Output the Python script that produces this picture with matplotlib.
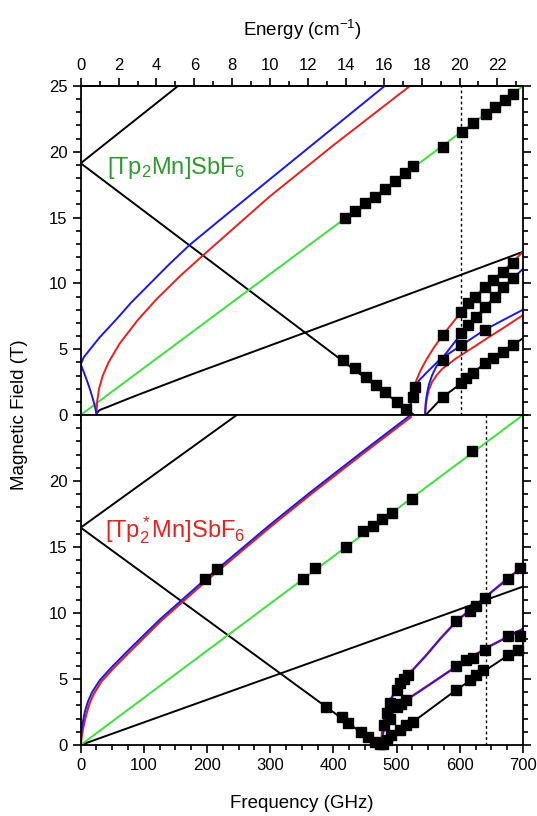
import matplotlib
matplotlib.use("Agg")
import matplotlib.pyplot as plt
from matplotlib.ticker import MultipleLocator, FixedLocator

plt.rcParams['font.family'] = ['Liberation Sans', 'DejaVu Sans']
plt.rcParams['mathtext.fontset'] = 'custom'
plt.rcParams['mathtext.rm'] = 'Liberation Sans'
plt.rcParams['mathtext.it'] = 'Liberation Sans'
plt.rcParams['mathtext.default'] = 'regular'

BLUE = '#1a1ae8'
RED = '#e82020'
GREEN = '#3ddf3d'
BLACK = '#000000'

# ---------------- top panel: [Tp2Mn]SbF6 ----------------
top_green_f = [0, 700]
top_green_B = [0, 25]
top_vrise_f = [0, 154]
top_vrise_B = [19.13, 25]
top_vfall_f = [0, 528]
top_vfall_B = [19.13, 0]
top_half_f = [25, 26, 28, 32, 41, 60, 89, 173, 346, 700]
top_half_B = [0, 0.15, 0.3, 0.42, 0.58, 0.95, 1.5, 3.04, 6.1, 12.4]
top_blue_up_f = [0, 5, 15, 30, 57, 80, 110, 140, 173, 230, 299, 390, 481]
top_blue_up_B = [3.85, 4.4, 5.0, 5.9, 7.3, 8.55, 10.0, 11.45, 12.95, 15.2, 17.9, 21.45, 25]
top_blue_low_f = [0, 5, 10, 15, 20, 23, 25]
top_blue_low_B = [3.85, 3.25, 2.6, 1.9, 1.1, 0.55, 0]
top_red_up_f = [25, 26, 29, 35, 44, 62, 90, 120, 157, 194, 240, 299, 400, 521]
top_red_up_B = [0, 1.0, 2.0, 3.0, 4.0, 5.45, 7.2, 8.8, 10.55, 12.15, 14.1, 16.6, 20.5, 25]
top_redA_f = [521, 522, 524, 527, 531, 538, 547, 560, 573.5, 602.6, 639, 668, 700]
top_redA_B = [0, 0.8, 1.5, 2.0, 2.6, 3.4, 4.2, 5.2, 6.1, 7.85, 9.75, 10.9, 12.4]
top_blueA_f = [521, 522, 524, 528, 535, 547, 568, 602.6, 639, 670, 700]
top_blueA_B = [0, 0.8, 1.4, 2.0, 2.6, 3.2, 4.2, 5.3, 6.46, 7.25, 8.0]
top_blueB_f = [545, 546, 548, 551, 556, 563, 573.5, 602.6, 626, 655, 684, 700]
top_blueB_B = [0, 0.9, 1.6, 2.3, 3.0, 3.7, 4.4, 6.2, 7.47, 8.99, 10.39, 11.1]
top_redB_f = [545, 546, 548, 551, 556, 563, 572, 594, 620, 647, 675, 700]
top_redB_B = [0, 0.7, 1.3, 1.9, 2.5, 3.0, 3.5, 4.3, 5.1, 5.95, 6.8, 7.6]
top_blackB_f = [546, 556, 573.5, 602.6, 621, 639, 668, 700]
top_blackB_B = [0, 0.5, 1.39, 2.41, 3.17, 3.93, 4.81, 5.83]
top_dotted_f = 602.6

top_sq_fall_f = [415, 434, 451, 468, 481, 500, 515, 526, 529]
top_sq_fall_B = [4.18, 3.55, 2.91, 2.28, 1.77, 1.01, 0.43, 1.39, 2.15]
top_sq_redA_f = [573.5, 602.6, 613, 623.6, 639.4, 652.6, 668.4, 684.2]
top_sq_redA_B = [6.08, 7.85, 8.49, 8.99, 9.75, 10.26, 10.89, 11.53]
top_sq_blueB_f = [573.5, 602.6, 613, 626.3, 639.4, 655.2, 668.4, 684.2]
top_sq_blueB_B = [4.18, 6.21, 6.84, 7.47, 8.23, 8.99, 9.75, 10.39]
top_sq_blueA_f = [602.6, 639.4]
top_sq_blueA_B = [5.32, 6.46]
top_sq_black_f = [573.5, 602.6, 610.5, 621, 639.4, 652.6, 668.4, 684.2]
top_sq_black_B = [1.39, 2.41, 2.79, 3.17, 3.93, 4.31, 4.81, 5.32]
top_sq_green_f = [418, 434, 450, 466, 481, 497, 513, 526, 573, 603, 621, 642, 655, 671, 684]
top_sq_green_B = [15.0, 15.5, 16.1, 16.6, 17.2, 17.8, 18.4, 18.9, 20.4, 21.5, 22.2, 22.9, 23.4, 23.9, 24.4]

# ---------------- bottom panel: [Tp*2Mn]SbF6 ----------------
bot_green_f = [0, 700]
bot_green_B = [0, 25]
bot_vrise_f = [0, 247]
bot_vrise_B = [16.47, 25]
bot_vfall_f = [0, 471]
bot_vfall_B = [16.47, 0]
bot_half_f = [0, 700]
bot_half_B = [0, 12.0]
bot_blue_up_f = [0, 0.5, 2, 4, 7, 11.5, 18, 30, 50, 78, 125, 197, 300, 363, 440, 522]
bot_blue_up_B = [0, 0.7, 1.35, 1.9, 2.6, 3.3, 4.0, 4.9, 5.95, 7.3, 9.5, 12.55, 16.7, 19.13, 22.0, 25]
bot_red_up_f = [0, 1.5, 3.5, 6, 9.5, 14, 20.5, 32.5, 52.5, 80.5, 127, 199, 302, 365, 442, 524]
bot_red_up_B = [0, 0.6, 1.2, 1.75, 2.45, 3.15, 3.85, 4.8, 5.85, 7.2, 9.4, 12.45, 16.6, 19.03, 21.9, 24.9]
bot_upper_f = [476, 477, 479, 482, 486, 491, 500, 518, 545, 570, 594.6, 642, 700]
bot_upper_B = [0, 0.9, 1.7, 2.4, 3.0, 3.5, 4.2, 5.3, 6.7, 8.1, 9.37, 11.27, 13.55]
bot_middle_f = [476, 477, 479, 483, 490, 500, 515.6, 545, 594.6, 642, 700]
bot_middle_B = [0, 0.6, 1.0, 1.5, 2.2, 2.85, 3.42, 4.35, 5.95, 7.35, 8.8]
bot_lower_f = [476, 526, 594.6, 642, 700]
bot_lower_B = [0, 1.75, 4.18, 5.70, 7.55]
bot_dotted_f = 641

bot_sq_fall_f = [389, 412.8, 423, 444, 455, 465, 473]
bot_sq_fall_B = [2.91, 2.15, 1.65, 1.0, 0.63, 0.25, 0.1]
bot_sq_upper_f = [480, 484, 489, 500, 505, 512, 518, 594.6, 615.7, 626.3, 639.4, 676, 694.8]
bot_sq_upper_B = [1.5, 2.4, 3.17, 4.18, 4.69, 5.0, 5.32, 9.37, 10.13, 10.51, 11.15, 12.54, 13.43]
bot_sq_middle_f = [490, 500, 507, 515.6, 594.6, 610.5, 621, 639.4, 676, 695]
bot_sq_middle_B = [2.0, 2.91, 3.1, 3.42, 5.95, 6.46, 6.59, 7.22, 8.23, 8.23]
bot_sq_lower_f = [478, 485, 491.8, 505, 515.6, 526, 594.6, 615.7, 626.3, 636.7, 676, 692]
bot_sq_lower_B = [0.1, 0.4, 0.76, 1.14, 1.52, 1.77, 4.18, 4.94, 5.32, 5.70, 6.84, 7.22]
bot_sq_green_f = [352, 371, 420, 447, 462, 477, 493, 525, 620]
bot_sq_green_B = [12.6, 13.4, 15.0, 16.2, 16.6, 17.1, 17.6, 18.6, 22.3]
bot_sq_curve_f = [197, 215]
bot_sq_curve_B = [12.54, 13.3]

energy_ticks = [0, 2, 4, 6, 8, 10, 12, 14, 16, 18, 20, 22]
freq_ticks = [0, 100, 200, 300, 400, 500, 600, 700]

W, H = 537, 816
fig = plt.figure(figsize=(W / 100, H / 100), dpi=100)
left = 80.7 / W
width = (523.0 - 80.7) / W
ax1 = fig.add_axes([left, (H - 415) / H, width, 329 / H])
ax2 = fig.add_axes([left, (H - 745) / H, width, 330 / H])

LW = 1.4
MS = 7.0


def line(ax, f, B, c, lw=LW, **kw):
    ax.plot(f, B, color=c, lw=lw, solid_capstyle='butt', solid_joinstyle='round', **kw)


def squares(ax, f, B):
    ax.plot(f, B, ls='none', marker='s', ms=MS, color='black', mec='black', zorder=5, clip_on=False)


# top panel
line(ax1, top_vrise_f, top_vrise_B, BLACK)
line(ax1, top_vfall_f, top_vfall_B, BLACK)
line(ax1, top_half_f, top_half_B, BLACK)
line(ax1, top_blackB_f, top_blackB_B, BLACK)
line(ax1, top_green_f, top_green_B, GREEN)
line(ax1, top_red_up_f, top_red_up_B, RED)
line(ax1, top_redA_f, top_redA_B, RED)
line(ax1, top_redB_f, top_redB_B, RED)
line(ax1, top_blue_up_f, top_blue_up_B, BLUE)
line(ax1, top_blue_low_f, top_blue_low_B, BLUE)
line(ax1, top_blueA_f, top_blueA_B, BLUE)
line(ax1, top_blueB_f, top_blueB_B, BLUE)
ax1.axvline(top_dotted_f, color='black', ls=(0, (2, 2)), lw=1.0)
for f, B in [(top_sq_fall_f, top_sq_fall_B), (top_sq_redA_f, top_sq_redA_B),
             (top_sq_blueB_f, top_sq_blueB_B), (top_sq_blueA_f, top_sq_blueA_B),
             (top_sq_black_f, top_sq_black_B), (top_sq_green_f, top_sq_green_B)]:
    squares(ax1, f, B)
ax1.text(41.6, 18.3, r'[Tp$_2$Mn]SbF$_6$', color='#2f9a2f', fontsize=17,
         ha='left', va='baseline')

# bottom panel
line(ax2, bot_vrise_f, bot_vrise_B, BLACK)
line(ax2, bot_vfall_f, bot_vfall_B, BLACK)
line(ax2, bot_half_f, bot_half_B, BLACK)
line(ax2, bot_lower_f, bot_lower_B, BLACK)
line(ax2, bot_green_f, bot_green_B, GREEN)
line(ax2, bot_red_up_f, bot_red_up_B, RED, lw=1.6)
line(ax2, bot_blue_up_f, bot_blue_up_B, BLUE)
line(ax2, bot_upper_f, bot_upper_B, RED, lw=1.8)
line(ax2, bot_upper_f, bot_upper_B, BLUE, lw=1.1)
line(ax2, bot_middle_f, bot_middle_B, RED, lw=1.8)
line(ax2, bot_middle_f, bot_middle_B, BLUE, lw=1.1)
ax2.axvline(bot_dotted_f, color='black', ls=(0, (2, 2)), lw=1.0)
for f, B in [(bot_sq_fall_f, bot_sq_fall_B), (bot_sq_upper_f, bot_sq_upper_B),
             (bot_sq_middle_f, bot_sq_middle_B), (bot_sq_lower_f, bot_sq_lower_B),
             (bot_sq_green_f, bot_sq_green_B), (bot_sq_curve_f, bot_sq_curve_B)]:
    squares(ax2, f, B)
ax2.text(38.4, 15.7, r'[Tp$^*_2$Mn]SbF$_6$', color='#e82020', fontsize=17,
         ha='left', va='baseline')

# axes formatting
for ax in (ax1, ax2):
    ax.set_xlim(0, 700)
    ax.set_ylim(0, 25)
    for s in ax.spines.values():
        s.set_linewidth(1.3)
    ax.xaxis.set_major_locator(FixedLocator(freq_ticks))
    ax.xaxis.set_minor_locator(MultipleLocator(25))
    ax.yaxis.set_minor_locator(MultipleLocator(1))
    ax.tick_params(which='both', direction='out', width=1.2, labelsize=12,
                   left=True, right=True, labelright=False)
    ax.tick_params(which='major', length=6)
    ax.tick_params(which='minor', length=3.5)

ax1.yaxis.set_major_locator(FixedLocator([0, 5, 10, 15, 20, 25]))
ax1.tick_params(axis='x', labelbottom=False, bottom=True)
ax2.yaxis.set_major_locator(FixedLocator([0, 5, 10, 15, 20]))
ax2.set_xlabel('Frequency (GHz)', fontsize=13.5, labelpad=16)

CM = 29.9792458
sec = ax1.secondary_xaxis('top', functions=(lambda f: f / CM, lambda e: e * CM))
sec.xaxis.set_major_locator(FixedLocator(energy_ticks))
sec.xaxis.set_minor_locator(MultipleLocator(1))
sec.tick_params(which='both', direction='out', width=1.2, labelsize=12)
sec.tick_params(which='major', length=6)
sec.tick_params(which='minor', length=3.5)
sec.spines['top'].set_linewidth(1.3)
sec.set_xlabel('Energy (cm$^{-1}$)', fontsize=13.5, labelpad=16)

fig.text(20 / W, (H - 415) / H, 'Magnetic Field (T)', rotation=90, fontsize=13.5,
         ha='center', va='center')

fig.savefig('out.png', dpi=100)
